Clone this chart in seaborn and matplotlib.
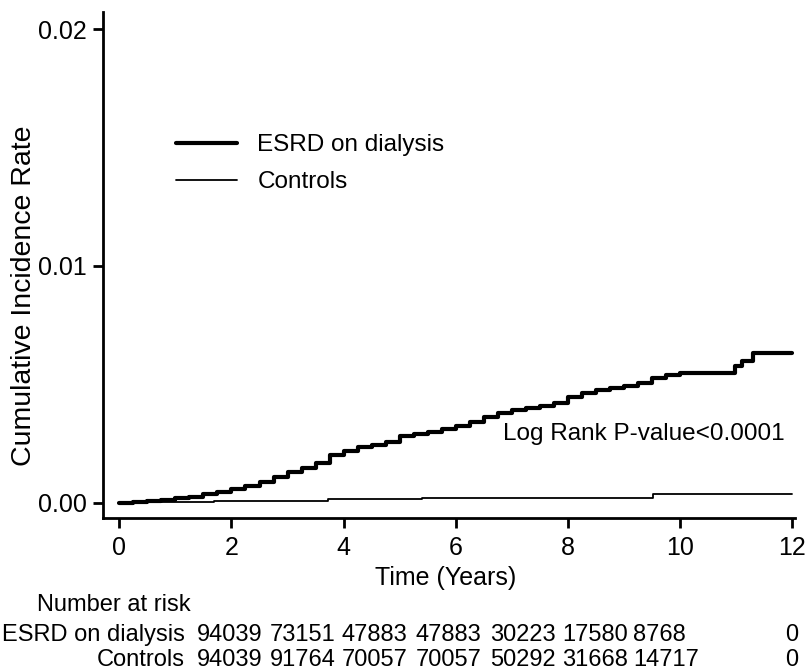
import matplotlib
matplotlib.use("Agg")
import matplotlib.pyplot as plt
import seaborn as sns
import pandas as pd

# ---- data ----
esrd_t = [0.0, 0.25, 0.5, 0.75, 1.0, 1.25, 1.5, 1.75, 2.0, 2.25, 2.5, 2.75, 3.0, 3.25, 3.5,
          3.75, 4.0, 4.25, 4.5, 4.75, 5.0, 5.25, 5.5, 5.75, 6.0, 6.25, 6.5, 6.75, 7.0, 7.25,
          7.5, 7.75, 8.0, 8.25, 8.5, 8.75, 9.0, 9.25, 9.5, 9.75, 10.0, 10.98, 11.1, 11.3, 12.0]
esrd_y = [0.0, 0.00003, 0.00008, 0.00013, 0.00019, 0.00025, 0.00036, 0.00045, 0.00060, 0.00072,
          0.00088, 0.00110, 0.00128, 0.00145, 0.00168, 0.00200, 0.00220, 0.00236, 0.00246, 0.00256,
          0.00282, 0.00290, 0.00300, 0.00312, 0.00325, 0.00340, 0.00362, 0.00378, 0.00390, 0.00400,
          0.00408, 0.00420, 0.00445, 0.00462, 0.00475, 0.00485, 0.00495, 0.00505, 0.00525, 0.00540,
          0.00548, 0.00576, 0.00597, 0.00633, 0.00633]
ctrl_t = [0.0, 0.3, 1.69, 3.73, 5.4, 9.52, 12.0]
ctrl_y = [0.0, 0.00003, 0.00008, 0.00015, 0.00022, 0.00037, 0.00037]

group_names = ["ESRD on dialysis", "Controls"]
risk_esrd = [94039, 73151, 47883, 47883, 30223, 17580, 8768, 0]
risk_ctrl = [94039, 91764, 70057, 70057, 50292, 31668, 14717, 0]
x_ticks = [0, 2, 4, 6, 8, 10, 12]
y_ticks = [0.00, 0.01, 0.02]
y_tick_labels = ["0.00", "0.01", "0.02"]

df_e = pd.DataFrame({"t": esrd_t, "y": esrd_y})
df_c = pd.DataFrame({"t": ctrl_t, "y": ctrl_y})

sns.set_theme(style="ticks")
plt.rcParams["font.family"] = ["Liberation Sans", "DejaVu Sans"]
plt.rcParams["text.color"] = "black"
plt.rcParams["axes.labelcolor"] = "black"

W, H = 808, 671
fig = plt.figure(figsize=(W / 100, H / 100), dpi=100)
ax = fig.add_axes([102.5 / W, 1 - 517.5 / H, (795 - 102.5) / W, (517.5 - 12) / H])

sns.lineplot(data=df_e, x="t", y="y", ax=ax, color="black", linewidth=3.0,
             drawstyle="steps-post", estimator=None, label=group_names[0])
sns.lineplot(data=df_c, x="t", y="y", ax=ax, color="black", linewidth=1.3,
             drawstyle="steps-post", estimator=None, label=group_names[1])

ax.set_xlim(-0.30, 12.05)
ax.set_ylim(-0.00062, 0.02072)
ax.set_xticks(x_ticks)
ax.set_xticklabels([str(v) for v in x_ticks])
ax.set_yticks(y_ticks)
ax.set_yticklabels(y_tick_labels)
for s in ["top", "right"]:
    ax.spines[s].set_visible(False)
for s in ["left", "bottom"]:
    ax.spines[s].set_linewidth(2.0)
    ax.spines[s].set_color("black")
ax.tick_params(axis="both", direction="out", length=7.5, width=2.0, colors="black",
               labelsize=18)
ax.tick_params(axis="x", pad=6)
ax.set_xlabel("Time (Years)", fontsize=18, color="black")
ax.set_ylabel("Cumulative Incidence Rate", fontsize=20.5, color="black")
aw, ah = (795 - 102.5), (517.5 - 12)
ax.xaxis.set_label_coords((446 - 102.5) / aw, (517.5 - 578) / ah)
ax.xaxis.label.set_va("center")
ax.yaxis.set_label_coords((24 - 102.5) / aw, (517.5 - 296) / ah)
ax.yaxis.label.set_va("center")

leg = ax.legend(loc="upper left", bbox_to_anchor=(176 / W, 1 - 134 / H),
                bbox_transform=fig.transFigure, frameon=False, fontsize=17.5,
                handlelength=2.5, handletextpad=0.85, labelspacing=0.62,
                borderpad=0, borderaxespad=0)
for t in leg.get_texts():
    t.set_color("black")

ax.text(6.85, 0.0029, "Log Rank P-value<0.0001", fontsize=17.5, va="center", ha="left",
        color="black")

# number at risk table
fig.text(37 / W, 1 - 605 / H, "Number at risk", fontsize=17, va="center", ha="left")
row_y = [635, 660]
col_x = [197, 270, 342, 416, 490, 562, 633, 785]
for name, vals, yy in zip(group_names, [risk_esrd, risk_ctrl], row_y):
    fig.text(185 / W, 1 - yy / H, name, fontsize=17, va="center", ha="right")
    for v, xx in zip(vals, col_x):
        fig.text(xx / W, 1 - yy / H, str(v), fontsize=17, va="center", ha="left")

fig.savefig("out.png", dpi=100, facecolor="white")
